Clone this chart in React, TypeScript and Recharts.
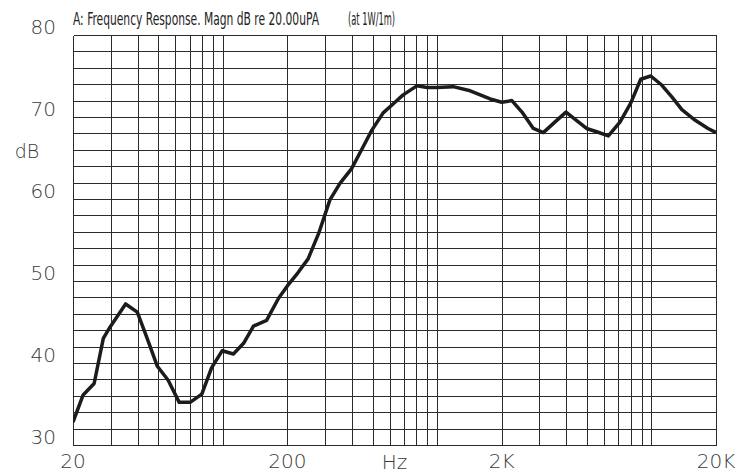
import { LineChart, Line, XAxis, YAxis, CartesianGrid } from 'recharts'

const freqHz = [
  20, 22.3, 25.1, 27.7, 29.8, 35.2, 39.9, 44.1, 49.5, 55.6, 62.6, 70.4, 79.8, 88.6, 99.4,
  112, 125, 139, 160, 182, 200, 224, 250, 280, 316, 352, 399, 444, 496, 560, 630, 694,
  804, 898, 994, 1188, 1426, 1768, 2002, 2232, 2488, 2810, 3128, 3551, 3992, 4464, 4978,
  5550, 6292, 7140, 8000, 8910, 9920, 11160, 12500, 13860, 16000, 18360, 20000,
]
const splDb = [
  32.8, 36.1, 37.5, 43.0, 44.4, 47.2, 46.2, 43.2, 39.6, 37.9, 35.2, 35.2, 36.2, 39.4, 41.5,
  41.1, 42.4, 44.5, 45.2, 47.9, 49.4, 51.0, 52.7, 55.8, 59.9, 61.9, 63.7, 66.0, 68.4, 70.5, 71.7, 72.7,
  73.8, 73.6, 73.6, 73.7, 73.2, 72.2, 71.8, 72.0, 70.6, 68.6, 68.1, 69.4, 70.6, 69.6, 68.6,
  68.2, 67.7, 69.4, 71.7, 74.6, 75.0, 73.9, 72.4, 70.9, 69.6, 68.6, 68.1,
]

const xTicks = [20, 200, 2000, 20000]
const xTickLabels = ['20', '200', '2K', '20K']
const yTicks = [30, 40, 50, 60, 70, 80]
const gridFreqs = [
  20, 30, 40, 50, 60, 70, 80, 90, 100, 200, 300, 400, 500, 600, 700, 800, 900, 1000,
  2000, 3000, 4000, 5000, 6000, 7000, 8000, 9000, 10000, 20000,
]
const gridDb = [30, 32, 34, 36, 38, 40, 42, 44, 46, 48, 50, 52, 54, 56, 58, 60, 62, 64, 66, 68, 70, 72, 74, 76, 78, 80]

const data = freqHz.map((f, i) => ({ f, db: splDb[i] }))

const labelFont = "'DejaVu Sans', sans-serif"
const titleFont = "'DejaVu Sans Condensed', 'DejaVu Sans', sans-serif"
const labelColor = '#3a3a3a'

// snap grid lines to whole pixels so they stay crisp and dark
const snap = (v: number) => Math.round(v) + 0.5
const GridLine = (p: any) => (
  <line
    key={p.key}
    x1={snap(p.x1)}
    y1={snap(p.y1)}
    x2={snap(p.x2)}
    y2={snap(p.y2)}
    stroke="#2a2a2a"
    strokeWidth={1}
    shapeRendering="crispEdges"
  />
)

const XTick = ({ x, y, payload }: any) => {
  const i = xTicks.indexOf(payload.value)
  return (
    <text x={x} y={y + 15} textAnchor="middle" fontFamily={labelFont} fontWeight={200} fontSize={20} fill={labelColor}>
      {xTickLabels[i] ?? payload.value}
    </text>
  )
}

const YTick = ({ y, payload }: any) => (
  <text x={56} y={y - 1} textAnchor="end" fontFamily={labelFont} fontWeight={200} fontSize={20} fill={labelColor}>
    {payload.value}
  </text>
)

// narrow plotter-style caption: squeeze horizontally to the measured width
const titleScale = 0.7

export default function App() {
  return (
    <div style={{ position: 'absolute', left: 0, top: 0, width: 738, height: 474, background: '#fff' }}>
      <LineChart width={738} height={474} data={data} margin={{ top: 35, right: 22, left: 0, bottom: 0 }}>
        <CartesianGrid
          verticalValues={gridFreqs}
          horizontalValues={gridDb}
          horizontal={GridLine}
          vertical={GridLine}
        />
        <XAxis
          dataKey="f"
          type="number"
          scale="log"
          domain={[20, 20000]}
          ticks={xTicks}
          interval={0}
          allowDataOverflow
          axisLine={false}
          tickLine={false}
          height={29}
          tick={<XTick />}
          label={{ value: 'Hz', position: 'insideBottom', offset: 5, fontFamily: labelFont, fontWeight: 200, fontSize: 20, fill: labelColor }}
        />
        <YAxis
          type="number"
          domain={[30, 80]}
          ticks={yTicks}
          interval={0}
          allowDataOverflow
          axisLine={false}
          tickLine={false}
          width={73}
          tick={<YTick />}
        />
        <Line
          type="linear"
          dataKey="db"
          stroke="#1c1c1c"
          strokeWidth={3.5}
          strokeLinejoin="round"
          dot={false}
          isAnimationActive={false}
        />
      </LineChart>
      <svg width={738} height={474} style={{ position: 'absolute', left: 0, top: 0, pointerEvents: 'none' }}>
        <g transform={`translate(73,25) scale(${titleScale},1)`}>
          <text x={0} y={0} fontFamily={titleFont} fontSize={17} fontWeight={200} fill="#222" textLength={246 / titleScale} lengthAdjust="spacingAndGlyphs">
            A: Frequency Response. Magn dB re 20.00uPA
          </text>
        </g>
        <g transform={`translate(348,25) scale(${titleScale},1)`}>
          <text x={0} y={0} fontFamily={titleFont} fontSize={17} fontWeight={200} fill="#222" textLength={47 / titleScale} lengthAdjust="spacingAndGlyphs">
            (at 1W/1m)
          </text>
        </g>
        <text x={27} y={158} textAnchor="middle" fontFamily={labelFont} fontWeight={200} fontSize={19} fill={labelColor}>
          dB
        </text>
      </svg>
    </div>
  )
}
